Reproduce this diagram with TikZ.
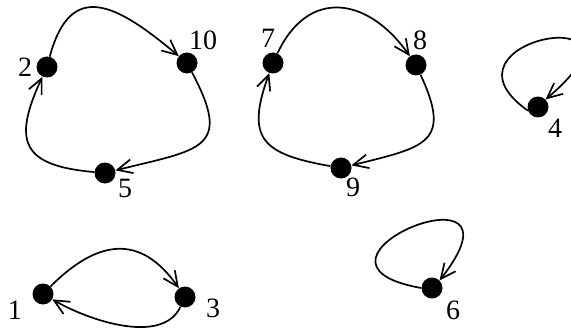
\documentclass[tikz,border=0pt]{standalone}
\usepackage{fontspec}
\setmainfont{Liberation Serif}
\usetikzlibrary{arrows.meta}

\begin{document}
\begin{tikzpicture}[
  x=1pt, y=1pt,
  vertex/.style={circle, fill=black, minimum size=21pt, inner sep=0pt},
  lbl/.style={font=\fontsize{28}{30}\selectfont, inner sep=0pt},
  arc/.style={-{Straight Barb[length=15pt,width=14pt]}, line width=1.7pt}
]
\useasboundingbox (0,0) rectangle (571,-329);
\clip (0,0) rectangle (571,-329);

% Vertices
\foreach \n/\x/\y in {2/47/67, 10/187/63, 5/105/173,
                      7/273/63, 8/416/65, 9/341/168,
                      4/538/107, 1/43/294, 3/185/297, 6/432/288}
  \node[vertex] (n\n) at (\x,-\y) {};

% Vertex labels
\foreach \n/\x/\y in {2/25/67, 10/203/40, 5/125/188,
                      7/268/38, 8/420/40, 9/353/187,
                      4/555/128, 1/15/310, 3/213/308, 6/453/310}
  \node[lbl] (t\n) at (\x,-\y) {\n};

% Cycle 2 -> 10 -> 5
\draw[arc] (n2) to[out=75, in=140, looseness=1.6] (n10);
\draw[arc] (n10) to[out=-62, in=14, looseness=1.8] (n5);
\draw[arc] (n5) to[out=175, in=-115, looseness=1.7] (n2);

% Cycle 7 -> 8 -> 9
\draw[arc] (n7) to[out=65, in=125, looseness=1.4] (n8);
\draw[arc] (n8) to[out=-65, in=14, looseness=1.7] (n9);
\draw[arc] (n9) to[out=170, in=-110, looseness=1.6] (n7);

% Pair 1 <-> 3
\draw[arc] (n1) to[out=45, in=125, looseness=1.33] (n3);
\draw[arc] (n3) to[out=-115, in=-30, looseness=0.85] (n1);

% Self loops
\draw[arc] (n4.200) .. controls +(145:125) and +(40:160) .. (n4.45);
\draw[arc] (n6.180) .. controls +(170:150) and +(52:160) .. (n6.45);

\end{tikzpicture}
\end{document}
